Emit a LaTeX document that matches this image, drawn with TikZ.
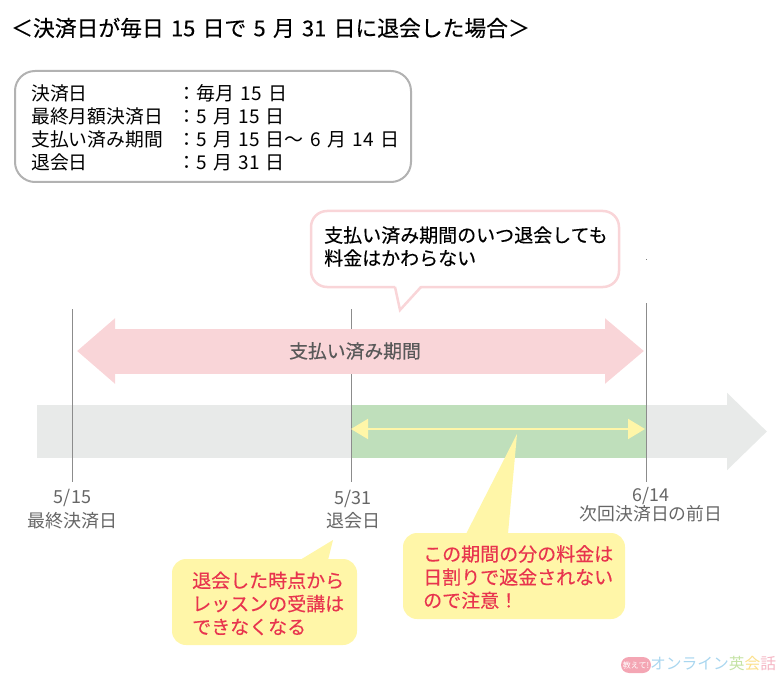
\documentclass[tikz,border=0pt]{standalone}
\usepackage{fontspec}
\setmainfont[WordSpace=1.5]{Noto Sans CJK JP}
\usetikzlibrary{arrows.meta}
\definecolor{pinkc}{HTML}{F9D5D8}
\definecolor{greyc}{HTML}{E8EAE9}
\definecolor{greenc}{HTML}{BFDFBB}
\definecolor{yellowc}{HTML}{FFF6A8}
\definecolor{redc}{HTML}{E8344E}
\definecolor{datec}{HTML}{666666}
\definecolor{logoblue}{HTML}{A9D6EF}
\definecolor{logogreen}{HTML}{C5E3A5}
\definecolor{logoyellow}{HTML}{FBE08C}
\definecolor{logopink}{HTML}{F5B6C4}
\definecolor{badgec}{HTML}{F4A6B4}
\tikzset{
  body/.style={inner sep=0pt,anchor=west,align=left,font=\fontsize{18.8}{23}\selectfont},
  balloon/.style={inner sep=0pt,anchor=west,align=left,text=redc,font=\fontsize{19}{23.2}\selectfont\addfontfeature{FakeBold=0.3}},
  yellowbox/.style={fill=yellowc,rounded corners=14pt,inner sep=0pt,outer sep=0pt,anchor=north west},
  datelabel/.style={inner sep=0pt,text=datec,align=center,font=\fontsize{18}{23.5}\selectfont},
  dayline/.style={draw=black!45,line width=0.9pt},
}
\begin{document}
\begin{tikzpicture}[x=1pt,y=-1pt]
\useasboundingbox (0,0) rectangle (780,674);
\node[inner sep=0pt,anchor=west,font=\fontsize{21.8}{24}\selectfont\addfontfeature{FakeBold=0.3}] (title) at (11,28) {＜決済日が毎日 15 日で 5 月 31 日に退会した場合＞};

\node[draw=black!30,line width=2pt,rounded corners=20pt,outer sep=0pt,minimum width=396pt,minimum height=111pt,anchor=north west] (infobox) at (15,71) {};
\node[body] (infokeys) at (31,128) {決済日\\最終月額決済日\\支払い済み期間\\退会日};
\node[body,font=\fontsize{19}{23}\selectfont] (infovals) at (177,128) {：毎月 15 日\\：5 月 15 日\\：5 月 15 日～ 6 月 14 日\\：5 月 31 日};

\coordinate (greyL) at (37,431.5);
\coordinate (greyR) at (767,431.5);
\draw[greyc,line width=53pt,-{Triangle[length=40pt,width=75pt]}] (greyL) -- (greyR);
\node[fill=greenc,inner sep=0pt,outer sep=0pt,minimum width=295pt,minimum height=53pt,anchor=north west] (refund) at (351,405) {};

\coordinate (top1) at (72,309);
\coordinate (bot1) at (72,482);
\coordinate (top2) at (351,309);
\coordinate (bot2) at (351,482);
\coordinate (top3) at (646,303);
\coordinate (bot3) at (646,482);
\draw[dayline] (top1)--(bot1);
\draw[dayline] (top2)--(bot2);
\draw[dayline] (top3)--(bot3);
\fill[black!50] (645.5,259.5) rectangle (646.5,260.5);

\coordinate (payL) at (77,351);
\coordinate (payR) at (644,351);
\draw[pinkc,line width=45pt,{Triangle[length=38pt,width=63pt]}-{Triangle[length=39pt,width=63pt]}] (payL) -- (payR);
\node[inner sep=0pt,text=black!65,font=\fontsize{18.8}{22}\selectfont\addfontfeature{FakeBold=0.3}] (paylabel) at (355,351) {支払い済み期間};

\coordinate (yellowL) at (351,429);
\coordinate (yellowR) at (645,429);
\draw[yellowc,line width=2pt,{Triangle[length=17pt,width=20pt]}-{Triangle[length=17pt,width=20pt]}] (yellowL) -- (yellowR);

\node[draw=pinkc,fill=white,line width=2.5pt,rounded corners=16pt,inner sep=0pt,outer sep=0pt,minimum width=308pt,minimum height=76pt,anchor=north west] (notebox) at (311,211) {};
\fill[white] (395,285) -- (400,310) -- (421,285) -- cycle;
\draw[pinkc,line width=2.5pt,line join=miter] (395,287) -- (400,310) -- (421,287);
\node[inner sep=0pt,anchor=west,align=left,font=\fontsize{19}{23}\selectfont\addfontfeature{FakeBold=0.3}] (note) at (324,246.5) {支払い済み期間のいつ退会しても\\料金はかわらない};

\node[datelabel] (date1) at (72.5,509) {5/15\\最終決済日};
\node[datelabel] (date2) at (353,509.5) {5/31\\退会日};
\node[datelabel,font=\fontsize{17.8}{19}\selectfont] (date3) at (651,505) {6/14\\次回決済日の前日};

\node[yellowbox,minimum width=185pt,minimum height=86pt] (leftbox) at (172,559) {};
\fill[yellowc] (300,560) -- (333,540) -- (328,560) -- cycle;
\node[balloon] (leftnote) at (192,603.5) {退会した時点から\\レッスンの受講は\\できなくなる};

\node[yellowbox,minimum width=222pt,minimum height=86pt] (rightbox) at (403,533) {};
\fill[yellowc] (466,534) -- (517,434) -- (508,534) -- cycle;
\node[balloon] (rightnote) at (423,577) {この期間の分の料金は\\日割りで返金されない\\ので注意！};

\node[fill=badgec,rounded corners=8pt,inner sep=0pt,minimum width=30pt,minimum height=16pt,text=white,font=\fontsize{8}{8}\selectfont] (badge) at (636,665) {教えて!};
\node[inner sep=0pt,anchor=west,font=\fontsize{15.75}{18}\selectfont] (logo) at (650,664) {\textcolor{logoblue}{オンライン}\textcolor{logogreen}{英}\textcolor{logoyellow}{会}\textcolor{logopink}{話}};
\end{tikzpicture}
\end{document}
